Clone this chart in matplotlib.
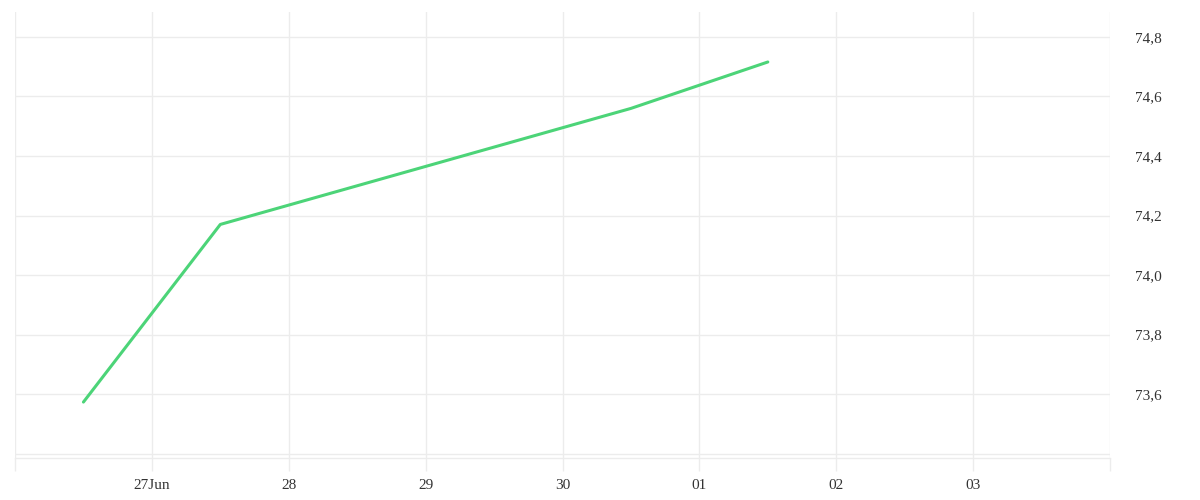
import matplotlib
matplotlib.use('Agg')
import matplotlib.pyplot as plt
import matplotlib.dates as mdates
import numpy as np
import pandas as pd

# data
dates = pd.to_datetime(['2025-06-26 12:00', '2025-06-27 12:00',
                        '2025-06-30 12:00', '2025-07-01 12:00'])
values = [73.573, 74.170, 74.560, 74.716]

tick_days = pd.to_datetime(['2025-06-27', '2025-06-28', '2025-06-29', '2025-06-30',
                            '2025-07-01', '2025-07-02', '2025-07-03'])
tick_labels = ['27Jun', '28', '29', '30', '01', '02', '03']
grid_days = pd.date_range('2025-06-26', '2025-07-04', freq='D')
y_grid = [73.4, 73.6, 73.8, 74.0, 74.2, 74.4, 74.6, 74.8]
y_labels = ['', '73,6', '73,8', '74,0', '74,2', '74,4', '74,6', '74,8']

plt.rcParams['font.family'] = ['Liberation Serif', 'DejaVu Serif']
grid_col = '#ececec'

fig = plt.figure(figsize=(12, 5), dpi=100)
ax = fig.add_axes([15/1200, 1 - 458/500, (1110 - 15)/1200, (458 - 12)/500])

ax.plot(dates, values, color='#4cd478', lw=2.2, solid_capstyle='round', zorder=3)

ax.set_xlim(grid_days[0], grid_days[-1])
ax.set_ylim(73.385, 74.884)

# vertical grid + tick marks on every day (minor), labels on major ticks
ax.xaxis.remove_overlapping_locs = False
ax.set_xticks(mdates.date2num(grid_days), minor=True)
ax.set_xticks(mdates.date2num(tick_days))
ax.set_xticklabels(tick_labels)
ax.grid(True, which='minor', axis='x', color=grid_col, lw=1)
ax.tick_params(axis='x', which='minor', length=9, color=grid_col, width=1)
ax.tick_params(axis='x', which='major', length=9, color=(1, 1, 1, 0),
               pad=6, labelsize=11, labelcolor='#333333')

ax.yaxis.tick_right()
ax.set_yticks(y_grid)
ax.set_yticklabels(y_labels)
ax.grid(True, which='major', axis='y', color=grid_col, lw=1)
ax.tick_params(axis='y', length=0, pad=18, labelsize=11, labelcolor='#333333')

for s in ['top', 'right', 'left']:
    ax.spines[s].set_visible(False)
ax.spines['bottom'].set_color(grid_col)
ax.spines['bottom'].set_linewidth(1)

fig.savefig('out.png', dpi=100)
